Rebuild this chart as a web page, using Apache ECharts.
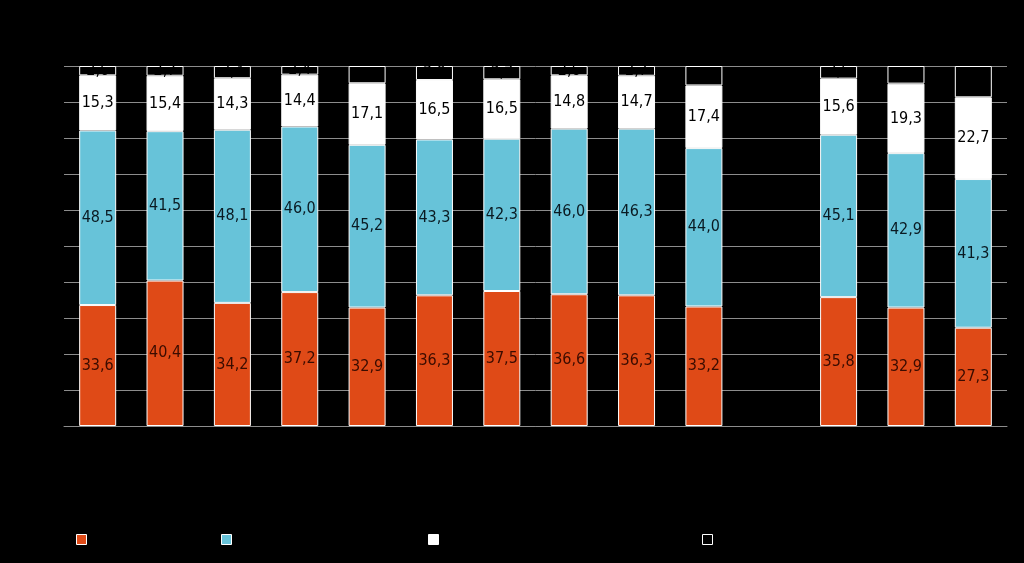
<!DOCTYPE html>
<html>
<head>
<meta charset="utf-8">
<script src="https://cdn.jsdelivr.net/npm/echarts@6/dist/echarts.min.js"></script>
<style>html,body{margin:0;padding:0;background:#000;}#c{width:1024px;height:563px;}</style>
</head>
<body>
<div id="c"></div>
<script>
const categories = ['1','2','3','4','5','6','7','8','9','10','','12','13','14'];
const seriesNames = ['Series 1','Series 2','Series 3','Series 4'];
const s1 = [33.6, 40.4, 34.2, 37.2, 32.9, 36.3, 37.5, 36.6, 36.3, 33.2, '-', 35.8, 32.9, 27.3];
const s2 = [48.5, 41.5, 48.1, 46.0, 45.2, 43.3, 42.3, 46.0, 46.3, 44.0, '-', 45.1, 42.9, 41.3];
const s3 = [15.3, 15.4, 14.3, 14.4, 17.1, 16.5, 16.5, 14.8, 14.7, 17.4, '-', 15.6, 19.3, 22.7];
const s4 = [2.6, 2.7, 3.4, 2.4, 4.8, 3.9, 3.7, 2.6, 2.7, 5.4, '-', 3.5, 4.9, 8.7];
const yTicks = [0,10,20,30,40,50,60,70,80,90,100];

const colors = ['#DF4A17', '#67C3D9', '#FFFFFF', '#000000'];
const data = [s1, s2, s3, s4];
const fmt = p => (typeof p.value === 'number') ? p.value.toFixed(1).replace('.', ',') : '';

const chart = echarts.init(document.getElementById('c'));
const legendLefts = [71, 216, 423, 697];
chart.setOption({
  backgroundColor: '#000',
  animation: false,
  grid: {left: 64, right: 17, top: 66, bottom: 137},
  legend: seriesNames.map((n, i) => ({
    data: [{name: n, icon: 'rect'}], left: legendLefts[i], top: 528,
    itemWidth: 10, itemHeight: 10,
    itemStyle: {borderColor: '#fff', borderWidth: 1},
    textStyle: {color: '#000', fontFamily: 'DejaVu Sans', fontSize: 13}
  })),
  xAxis: {
    type: 'category', data: categories,
    axisLine: {lineStyle: {color: '#8c8c8c'}},
    axisTick: {show: false},
    axisLabel: {color: '#000'}
  },
  yAxis: {
    type: 'value', min: 0, max: 100, interval: 10,
    axisLabel: {color: '#000', formatter: v => yTicks.includes(v) ? String(v) : ''},
    splitLine: {lineStyle: {color: '#8c8c8c', width: 1}},
    axisLine: {show: false}, axisTick: {show: false}
  },
  series: data.map((d, i) => ({
    name: seriesNames[i],
    type: 'bar', stack: 'a', data: d, barWidth: 37,
    itemStyle: {color: colors[i], borderColor: '#fff', borderWidth: 1},
    label: {show: true, position: 'inside', color: i === 0 ? '#3a0c00' : (i === 1 ? '#0a1a22' : '#000'),
            fontFamily: '"DejaVu Sans Condensed", "DejaVu Sans"', fontSize: 16, formatter: fmt}
  }))
});
</script>
</body>
</html>
